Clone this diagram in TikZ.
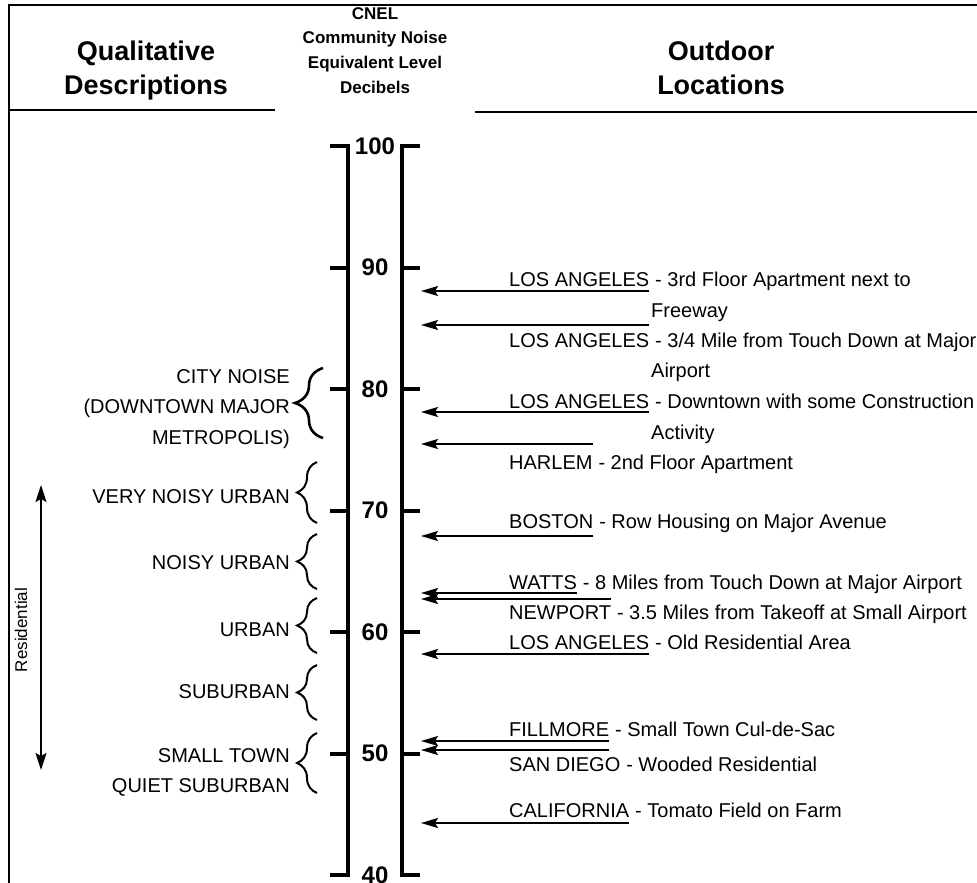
\documentclass[tikz,border=0pt]{standalone}
\usepackage{fontspec}
\setmainfont{Liberation Sans}
\usetikzlibrary{arrows.meta,decorations.pathreplacing,positioning}

\tikzset{
  hdr/.style={font=\fontsize{27}{31}\selectfont\bfseries,inner sep=0pt,anchor=base},
  cnel/.style={font=\fontsize{17}{20}\selectfont\bfseries,inner sep=0pt,anchor=base},
  lvl/.style={font=\fontsize{24}{28}\selectfont\bfseries,inner sep=0pt},
  desc/.style={font=\fontsize{20}{30.5}\selectfont,inner sep=0pt,align=right,anchor=east},
  place/.style={font=\fontsize{20}{24}\selectfont,inner sep=0pt,anchor=base west},
  bar/.style={line width=4pt},
  hline/.style={line width=2pt},
  arr/.style={line width=1.5pt,-{Stealth[length=17pt,width=10pt,inset=3pt]}},
  resarr/.style={line width=1.3pt,{Stealth[length=17pt,width=11pt,inset=3pt]}-{Stealth[length=17pt,width=11pt,inset=3pt]}},
  brc/.style={decorate,decoration={brace,amplitude=20pt},line width=2pt},
}

\begin{document}
\begin{tikzpicture}[x=1pt,y=-1pt]
\useasboundingbox (0,0) rectangle (977,883);
\clip (0,0) rectangle (977,883);
\fill[white] (0,0) rectangle (977,883);
\draw[line width=2.5pt] (9,883) -- (9,5) -- (977,5);

\node[hdr] (qual) at (146,61) {Qualitative};
\node[hdr] (descr) at (146,95) {Descriptions};
\draw[hline] (10,110) -- (275,110);
\node[cnel] (cn1) at (375,20) {CNEL};
\node[cnel] (cn2) at (375,44) {Community Noise};
\node[cnel] (cn3) at (375,69) {Equivalent Level};
\node[cnel] (cn4) at (375,93) {Decibels};
\node[hdr] (outd) at (721,61) {Outdoor};
\node[hdr] (locs) at (721,95) {Locations};
\draw[hline] (475,112) -- (977,112);

\draw[bar] (330,146) -- (348,146) -- (348,875) -- (330,875);
\draw[bar] (420,146) -- (402,146) -- (402,875) -- (420,875);
\foreach \v in {90,80,70,60,50} {
  \draw[bar] (330,{146+(100-\v)*12.15}) -- (348,{146+(100-\v)*12.15});
  \draw[bar] (402,{146+(100-\v)*12.15}) -- (420,{146+(100-\v)*12.15});
}
\foreach \v in {100,90,80,70,60,50,40}
  \node[lvl] (n\v) at (375,{146+(100-\v)*12.15}) {\v};

\node[desc] (city) at (290,409) {CITY NOISE\\(DOWNTOWN MAJOR\\METROPOLIS)};
\node[desc] (vnoisy) at (290,497) {VERY NOISY URBAN};
\node[desc] (noisy) at (290,563) {NOISY URBAN};
\node[desc] (urban) at (290,630) {URBAN};
\node[desc] (suburb) at (290,692) {SUBURBAN};
\node[desc,font=\fontsize{20}{30}\selectfont] (smtown) at (290,772) {SMALL TOWN\\QUIET SUBURBAN};

\draw[brc,decoration={amplitude=28pt},line width=2.6pt] (323,438) -- (323,368);
\draw[brc] (317,523) -- (317,462);
\draw[brc] (317,589) -- (317,534);
\draw[brc] (317,653) -- (317,598);
\draw[brc] (317,720) -- (317,665);
\draw[brc] (317,793) -- (317,733);

\coordinate (resTop) at (41,485);
\coordinate (resBot) at (41,770);
\draw[resarr] (resTop) -- (resBot);
\node[font=\fontsize{17}{20}\selectfont,rotate=90,inner sep=0pt] (resid) at (21,630) {Residential};

\coordinate (t1) at (421,291);
\coordinate (t2) at (421,325);
\coordinate (t3) at (421,412);
\coordinate (t4) at (421,444);
\coordinate (t5) at (421,536);
\coordinate (t6) at (421,593);
\coordinate (t7) at (421,599);
\coordinate (t8) at (421,654);
\coordinate (t9) at (421,741);
\coordinate (t10) at (421,750);
\coordinate (t11) at (421,823);

\node[place] (la1) at (509,286) {LOS ANGELES};
\node[place] (la1t) at (la1.base east) {\ - 3rd Floor Apartment next to};
\node[place] (la1c) at (651,317) {Freeway};
\node[place] (la2) at (509,347) {LOS ANGELES};
\node[place] (la2t) at (la2.base east) {\ - 3/4 Mile from Touch Down at Major};
\node[place] (la2c) at (651,377) {Airport};
\node[place] (la3) at (509,408) {LOS ANGELES};
\node[place] (la3t) at (la3.base east) {\ - Downtown with some Construction};
\node[place] (la3c) at (651,439) {Activity};
\node[place] (harl) at (509,469) {HARLEM};
\node[place] (harlt) at (harl.base east) {\ - 2nd Floor Apartment};
\node[place] (bost) at (509,528) {BOSTON};
\node[place] (bostt) at (bost.base east) {\ - Row Housing on Major Avenue};
\node[place] (watts) at (509,589) {WATTS};
\node[place] (wattst) at (watts.base east) {\ - 8 Miles from Touch Down at Major Airport};
\node[place] (newp) at (509,619) {NEWPORT};
\node[place] (newpt) at (newp.base east) {\ - 3.5 Miles from Takeoff at Small Airport};
\node[place] (la4) at (509,649) {LOS ANGELES};
\node[place] (la4t) at (la4.base east) {\ - Old Residential Area};
\node[place] (fillm) at (509,736) {FILLMORE};
\node[place] (fillmt) at (fillm.base east) {\ - Small Town Cul-de-Sac};
\node[place] (sand) at (509,771) {SAN DIEGO};
\node[place] (sandt) at (sand.base east) {\ - Wooded Residential};
\node[place] (calif) at (509,817) {CALIFORNIA};
\node[place] (calift) at (calif.base east) {\ - Tomato Field on Farm};

\draw[arr] (la1.east |- t1) -- (t1);
\draw[arr] (la2.east |- t2) -- (t2);
\draw[arr] (la3.east |- t3) -- (t3);
\draw[arr] (harl.east |- t4) -- (t4);
\draw[arr] (bost.east |- t5) -- (t5);
\draw[arr] (watts.east |- t6) -- (t6);
\draw[arr] (newp.east |- t7) -- (t7);
\draw[arr] (la4.east |- t8) -- (t8);
\draw[arr] (fillm.east |- t9) -- (t9);
\draw[arr] (fillm.east |- t10) -- (t10);
\draw[arr] (calif.east |- t11) -- (t11);
\end{tikzpicture}
\end{document}
